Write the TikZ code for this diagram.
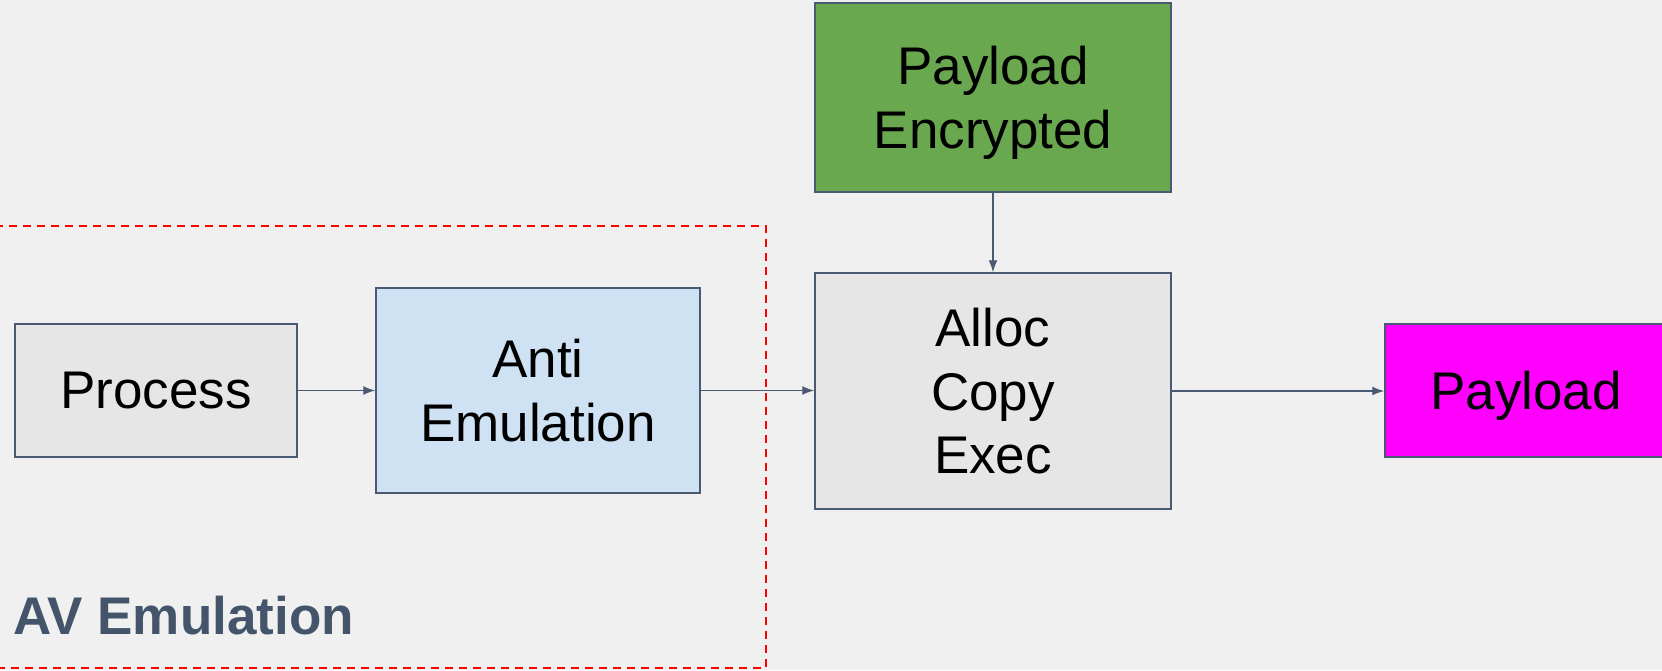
\documentclass[tikz,border=0pt]{standalone}
\usepackage{fontspec}
\setmainfont{Liberation Sans}
\usetikzlibrary{arrows.meta}
\definecolor{bg}{HTML}{F0F0F0}
\definecolor{edge}{HTML}{4A5A72}
\definecolor{procfill}{HTML}{E6E6E6}
\definecolor{antifill}{HTML}{CFE2F3}
\definecolor{encfill}{HTML}{6AA84F}
\definecolor{payfill}{HTML}{FF00FF}
\definecolor{avtext}{HTML}{44546A}
\tikzset{
  box/.style={draw=edge, line width=1.5pt, rectangle, align=center, inner sep=0pt,
    text depth=0pt, font=\fontsize{53}{63.5}\selectfont, text=black},
  conn/.style={draw=edge, line width=1.4pt, -{Latex[length=12pt,width=9pt]}},
}
\begin{document}
\begin{tikzpicture}[x=1pt,y=-1pt]
\fill[bg] (0,0) rectangle (1662,670);
\useasboundingbox (0,0) rectangle (1662,670);
\draw[red, line width=1.5pt, dash pattern=on 8pt off 6pt] (-5,226) -- (766,226) -- (766,668) -- (-5,668);
\node[box, fill=procfill, minimum width=282pt, minimum height=133pt] (proc) at (156,390.5) {Process};
\node[box, fill=antifill, minimum width=324pt, minimum height=205pt] (anti) at (538,390.5) {Anti\\Emulation};
\node[box, fill=encfill, minimum width=356pt, minimum height=189pt] (enc) at (993,97.5) {Payload\\Encrypted};
\node[box, fill=procfill, minimum width=356pt, minimum height=236pt] (alloc) at (993,391) {Alloc\\Copy\\Exec};
\node[box, fill=payfill, minimum width=282pt, minimum height=133pt] (pay) at (1526,390.5) {Payload};
\node[anchor=base west, inner sep=0pt, text=avtext, font=\fontsize{53}{64}\selectfont\bfseries] (av) at (13,634) {AV Emulation};
\draw[conn] (proc.east) -- (anti.west);
\draw[conn] (anti.east) -- (anti.east -| alloc.west);
\draw[conn] (alloc.east) -- (alloc.east -| pay.west);
\draw[conn] (enc.south) -- (alloc.north);
\end{tikzpicture}
\end{document}
